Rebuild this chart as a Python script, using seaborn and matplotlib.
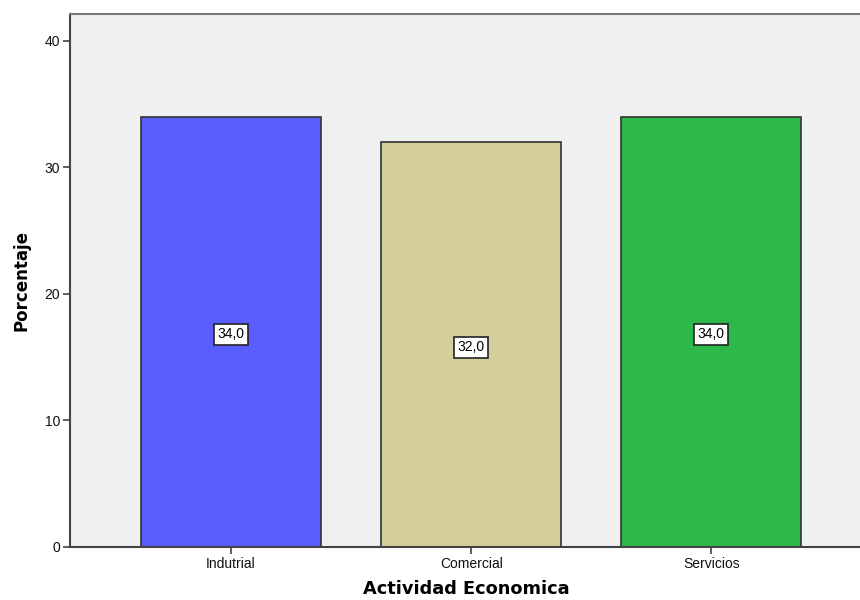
import matplotlib
matplotlib.use("Agg")
import matplotlib.pyplot as plt
import seaborn as sns
import pandas as pd

categories = ["Indutrial", "Comercial", "Servicios"]
values = [34.0, 32.0, 34.0]
colors = ["#5b5eff", "#d4ce9a", "#2fb84a"]
value_labels = ["34,0", "32,0", "34,0"]

sns.set_theme(style="white")
plt.rcParams['font.family'] = ['Liberation Sans', 'DejaVu Sans']
plt.rcParams['text.color'] = 'black'
plt.rcParams['axes.labelcolor'] = 'black'

df = pd.DataFrame({"cat": categories, "val": values})

fig = plt.figure(figsize=(8.6, 6), dpi=100)
ax = fig.add_axes([70/860, 53/600, 1 - 70/860 + 0.003, (547-14)/600])
ax.set_facecolor("#f0f0f0")
sns.barplot(data=df, x="cat", y="val", hue="cat", palette=colors, order=categories,
            hue_order=categories, width=0.75, edgecolor="#333333", linewidth=1.2,
            legend=False, ax=ax, saturation=1)

ax.set_xlim(-0.671, 2.63)
ax.set_ylim(0, 42.13)
ax.set_yticks([0, 10, 20, 30, 40])
ax.set_yticklabels(["0", "10", "20", "30", "40"])

for i, (v, lab) in enumerate(zip(values, value_labels)):
    ax.text(i, v / 2 - 0.2, lab, ha="center", va="center", fontsize=10, color="black",
            bbox=dict(boxstyle="square,pad=0.25", facecolor="white", edgecolor="#222222", linewidth=1.2))

ax.set_xlabel("Actividad Economica", fontsize=12.8, fontweight="bold", labelpad=7,
              family=['DejaVu Sans'])
ax.set_ylabel("Porcentaje", fontsize=12, fontweight="bold", labelpad=10,
              family=['DejaVu Sans'])

for s in ["left", "bottom"]:
    ax.spines[s].set_color("#444444")
    ax.spines[s].set_linewidth(1.5)
ax.spines["top"].set_color("#777777")
ax.spines["top"].set_linewidth(1.5)
ax.spines["right"].set_visible(False)

ax.tick_params(axis="both", which="both", length=5, width=1.2, color="#444444",
               labelsize=10, labelcolor="#111111", direction="out", pad=2)
ax.tick_params(axis="x", bottom=True)
ax.tick_params(axis="y", left=True)

fig.savefig("out.png", dpi=100)
